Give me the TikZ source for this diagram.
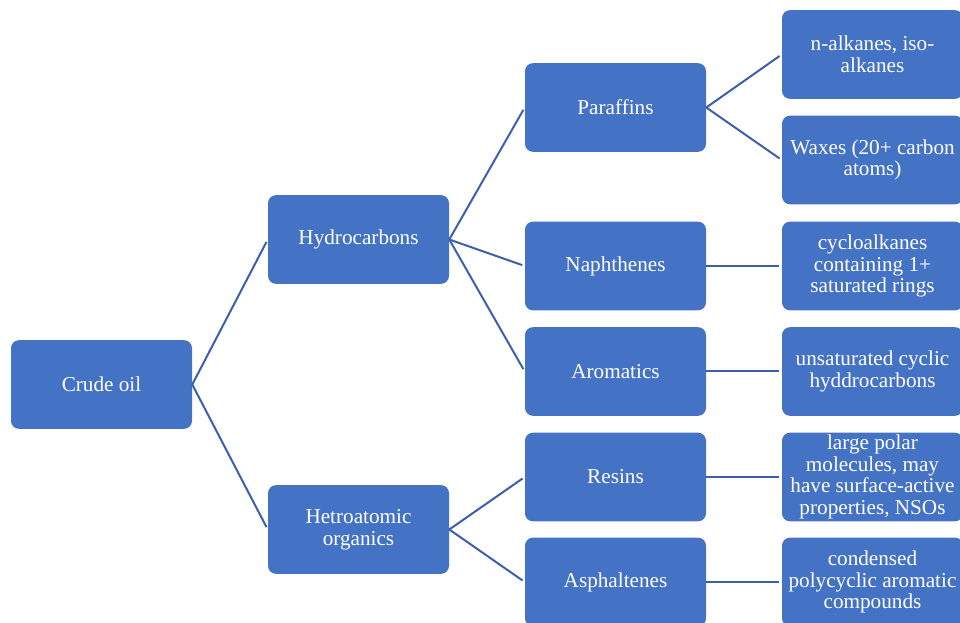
\documentclass[tikz,border=0pt]{standalone}
\usepackage{fontspec}
\setmainfont{Liberation Serif}
\definecolor{boxblue}{RGB}{68,114,196}
\definecolor{lineblue}{RGB}{59,95,170}
\tikzset{
  oilbox/.style={draw=none, fill=boxblue, rounded corners=6pt, text=white,
    minimum width=135.75pt, minimum height=66.5pt, inner sep=1pt, align=center,
    font=\fontsize{15.9}{16.3}\selectfont},
  branch/.style={draw=lineblue, line width=1.5pt, shorten >=2pt}
}
\begin{document}
\begin{tikzpicture}[x=0.75pt,y=0.75pt,yscale=-1,xscale=1]
\clip (0,0) rectangle (960,623);

%Shape: level 1
\node [oilbox] (crude) at (101.5,384.5) {Crude oil};
%Shape: level 2
\node [oilbox] (hydro) at (358.5,239.5) {Hydrocarbons};
\node [oilbox] (hetero) at (358.5,529.5) {Hetroatomic\\organics};
%Shape: level 3
\node [oilbox] (paraffins) at (615.5,107.5) {Paraffins};
\node [oilbox] (naphthenes) at (615.5,266) {Naphthenes};
\node [oilbox] (aromatics) at (615.5,371.5) {Aromatics};
\node [oilbox] (resins) at (615.5,477) {Resins};
\node [oilbox] (asphaltenes) at (615.5,582) {Asphaltenes};
%Shape: level 4
\node [oilbox] (alkanes) at (872.5,54.5) {n-alkanes, iso-\\alkanes};
\node [oilbox] (waxes) at (872.5,160) {Waxes (20+ carbon\\atoms)};
\node [oilbox] (cyclo) at (872.5,266) {cycloalkanes\\containing 1+\\saturated rings};
\node [oilbox] (unsat) at (872.5,371.5) {unsaturated cyclic\\hyddrocarbons};
\node [oilbox] (polar) at (872.5,477) {large polar\\molecules, may\\have surface-active\\properties, NSOs};
\node [oilbox] (condensed) at (872.5,582) {condensed\\polycyclic aromatic\\compounds};

%Straight Lines
\draw [branch] (crude.east) -- (hydro.west);
\draw [branch] (crude.east) -- (hetero.west);
\draw [branch] (hydro.east) -- (paraffins.west);
\draw [branch] (hydro.east) -- (naphthenes.west);
\draw [branch] (hydro.east) -- (aromatics.west);
\draw [branch] (hetero.east) -- (resins.west);
\draw [branch] (hetero.east) -- (asphaltenes.west);
\draw [branch] (paraffins.east) -- (alkanes.west);
\draw [branch] (paraffins.east) -- (waxes.west);
\draw [branch] (naphthenes.east) -- (cyclo.west);
\draw [branch] (aromatics.east) -- (unsat.west);
\draw [branch] (resins.east) -- (polar.west);
\draw [branch] (asphaltenes.east) -- (condensed.west);

\end{tikzpicture}
\end{document}
